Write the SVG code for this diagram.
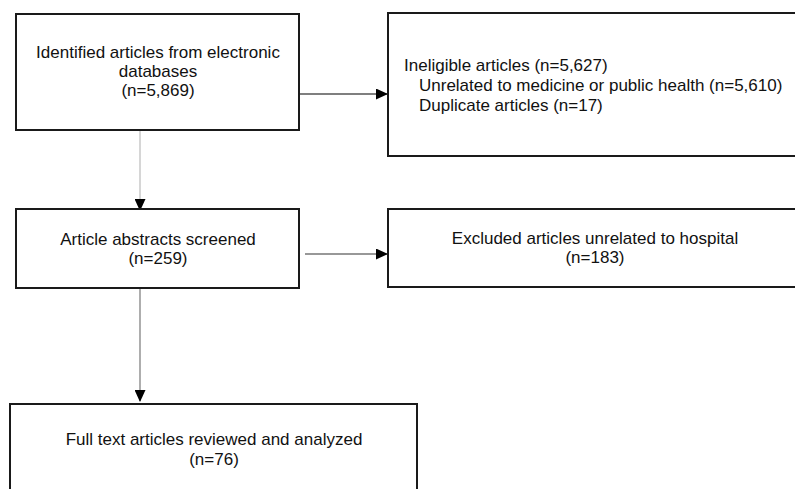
<svg xmlns="http://www.w3.org/2000/svg" width="795" height="489" viewBox="0 0 795 489">
<defs>
<style>
.box{fill:#fff;stroke:#1a1a1a;stroke-width:2}
text{font-family:"Liberation Sans",Arial,sans-serif;font-size:17px;fill:#111}
.c{text-anchor:middle}
.ln{fill:none;stroke-width:1.2}
</style>
<marker id="ah" viewBox="0 0 12 11" refX="11" refY="5.5" markerWidth="12" markerHeight="11" markerUnits="userSpaceOnUse" orient="auto">
<path d="M0,0 L12,5.5 L0,11 Z" fill="#000"/>
</marker>
</defs>
<rect width="795" height="489" fill="#fff"/>
<g id="connectors">
<line class="ln" x1="299" y1="94" x2="387" y2="94" stroke="#000" marker-end="url(#ah)"/>
<line class="ln" x1="140" y1="131" x2="140" y2="210" stroke="#bbb" stroke-width="2" marker-end="url(#ah)"/>
<line class="ln" x1="305" y1="254" x2="387" y2="254" stroke="#333" marker-end="url(#ah)"/>
<line class="ln" x1="140" y1="289" x2="140" y2="401" stroke="#777" stroke-width="2" marker-end="url(#ah)"/>
</g>
<g id="identified">
<rect class="box" x="16" y="14" width="283" height="116"/>
<text class="c" x="158" y="58">Identified articles from electronic</text>
<text class="c" x="158" y="77">databases</text>
<text class="c" x="158" y="96">(n=5,869)</text>
</g>
<g id="ineligible">
<rect class="box" x="388" y="13" width="420" height="143"/>
<text x="404" y="71">Ineligible articles (n=5,627)</text>
<text x="419" y="91">Unrelated to medicine or public health (n=5,610)</text>
<text x="419" y="111">Duplicate articles (n=17)</text>
</g>
<g id="screened">
<rect class="box" x="16" y="209" width="283" height="79"/>
<text class="c" x="158" y="245">Article abstracts screened</text>
<text class="c" x="158" y="264">(n=259)</text>
</g>
<g id="excluded">
<rect class="box" x="388" y="209" width="420" height="78"/>
<text class="c" x="595" y="244">Excluded articles unrelated to hospital</text>
<text class="c" x="595" y="263">(n=183)</text>
</g>
<g id="fulltext">
<rect class="box" x="10" y="404" width="407" height="100"/>
<text class="c" x="214" y="445">Full text articles reviewed and analyzed</text>
<text class="c" x="214" y="465">(n=76)</text>
</g>
</svg>
